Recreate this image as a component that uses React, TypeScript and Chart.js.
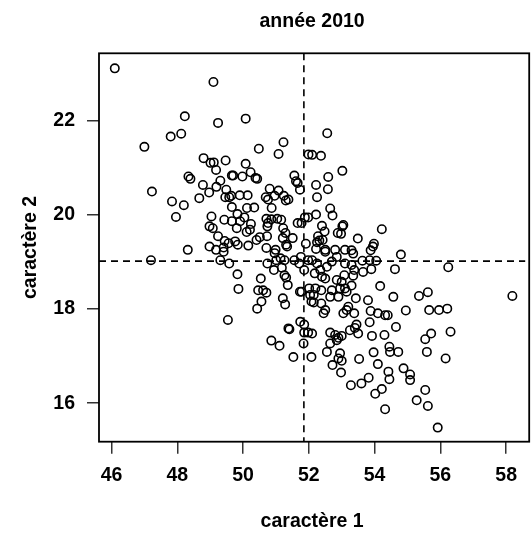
import { useEffect, useRef } from "react";
import { Chart, registerables } from "chart.js";

Chart.register(...registerables);

const TITLE = "année 2010";
const X_LABEL = "caractère 1";
const Y_LABEL = "caractère 2";

const X_TICKS = [46, 48, 50, 52, 54, 56, 58];
const Y_TICKS = [16, 18, 20, 22];

const MEAN_X = 51.85;
const MEAN_Y = 19.02;

const X_VALUES = [
  46.10, 48.23, 47.80, 48.12, 47.00, 48.80, 48.34, 48.40, 48.78, 47.23,
  48.67, 47.84, 48.20, 47.96, 48.32, 49.10, 49.24, 50.08, 50.48, 51.23,
  51.08, 51.99, 49.01, 49.11, 49.47, 49.18, 50.08, 49.66, 49.70, 49.98,
  50.23, 50.38, 50.43, 49.31, 49.19, 48.97, 49.49, 49.46, 49.58, 49.64,
  49.90, 50.14, 50.81, 51.08, 50.69, 50.76, 50.96, 51.24, 51.30, 51.38,
  51.56, 51.61, 51.66, 51.73, 50.87, 49.66, 50.12, 50.34, 49.83, 49.04,
  49.43, 49.66, 49.91, 50.04, 50.24, 48.98, 49.08, 49.81, 50.11, 50.21,
  50.71, 50.76, 50.86, 51.04, 51.16, 50.74, 51.22, 51.29, 51.66, 51.78,
  51.88, 51.98, 49.24, 49.44, 49.56, 49.76, 49.84, 50.16, 50.41, 50.51,
  50.73, 51.21, 51.31, 51.51, 51.91, 48.98, 49.41, 50.71, 50.99, 52.56,
  52.10, 52.37, 53.02, 52.59, 52.22, 52.58, 52.25, 52.65, 52.72, 52.22,
  52.40, 52.48, 53.05, 53.02, 52.88, 52.98, 54.22, 53.49, 53.98, 52.28,
  52.32, 52.25, 52.42, 52.50, 52.80, 53.10, 53.30, 53.88, 47.20, 49.18,
  49.41, 49.31, 49.58, 49.83, 49.86, 50.54, 50.46, 50.61, 50.71, 50.56,
  50.43, 49.54, 50.74, 50.96, 51.01, 50.94, 51.14, 51.26, 51.18, 51.26,
  51.31, 51.36, 51.21, 51.28, 51.34, 51.56, 51.76, 51.71, 51.86, 51.73,
  51.78, 52.01, 52.04, 52.08, 51.98, 51.41, 51.38, 51.74, 51.86, 51.86,
  51.98, 51.84, 50.86, 51.11, 51.53, 52.08, 52.22, 52.50, 53.35, 52.85,
  53.95, 54.80, 54.05, 53.63, 53.85, 52.10, 52.25, 52.55, 52.70, 53.10,
  53.30, 53.38, 53.65, 53.90, 54.62, 52.18, 52.35, 52.40, 52.50, 53.08,
  53.35, 52.85, 53.00, 54.17, 52.20, 52.38, 52.70, 52.95, 53.10, 53.30,
  53.15, 52.15, 52.65, 52.90, 53.43, 53.80, 54.57, 55.35, 52.15, 52.38,
  53.20, 53.15, 52.50, 52.45, 53.05, 53.38, 53.88, 54.10, 54.40, 54.32,
  54.95, 53.85, 53.45, 53.40, 53.25, 53.50, 54.65, 52.10, 52.65, 52.80,
  52.90, 53.00, 52.85, 52.65, 53.92, 54.30, 52.55, 52.95, 53.00, 52.90,
  53.53, 53.97, 54.45, 54.47, 54.72, 54.10, 52.72, 52.98, 54.42, 54.45,
  54.88, 55.08, 55.08, 53.82, 53.60, 53.28, 54.22, 54.02, 55.28, 54.32,
  56.24, 58.19, 55.62, 55.66, 55.96, 56.21, 55.72, 55.54, 56.31, 55.59,
  56.16, 55.54, 55.62, 55.92,
];

const Y_VALUES = [
  23.12, 22.10, 21.67, 21.73, 21.45, 21.21, 20.82, 20.77, 20.64, 20.50,
  20.36, 20.29, 20.21, 19.96, 19.26, 22.83, 21.96, 22.05, 21.41, 21.55,
  21.30, 21.29, 21.11, 21.12, 21.16, 20.96, 21.09, 20.84, 20.84, 20.82,
  20.91, 20.79, 20.77, 20.73, 20.60, 20.48, 20.54, 20.38, 20.38, 20.41,
  20.42, 20.42, 20.56, 20.52, 20.38, 20.33, 20.41, 20.41, 20.31, 20.33,
  20.84, 20.72, 20.68, 20.54, 20.15, 20.17, 20.15, 20.16, 20.02, 19.97,
  19.90, 19.87, 19.87, 19.95, 19.81, 19.76, 19.72, 19.72, 19.64, 19.69,
  19.92, 19.83, 19.91, 19.92, 19.90, 19.76, 19.72, 19.62, 19.83, 19.83,
  19.95, 19.95, 19.55, 19.45, 19.40, 19.44, 19.37, 19.35, 19.47, 19.53,
  19.55, 19.51, 19.37, 19.51, 19.39, 19.33, 19.31, 19.30, 19.26, 21.74,
  21.28, 21.26, 20.94, 20.81, 20.64, 20.55, 20.38, 20.14, 19.99, 20.01,
  19.77, 19.65, 19.79, 19.76, 19.62, 19.60, 19.70, 19.50, 19.39, 19.55,
  19.46, 19.42, 19.47, 19.26, 19.26, 19.26, 19.25, 19.25, 19.04, 19.26,
  19.22, 19.04, 18.97, 18.74, 18.43, 18.65, 18.40, 18.40, 18.35, 18.16,
  18.01, 17.77, 18.97, 19.19, 19.04, 18.83, 19.08, 19.04, 18.88, 18.72,
  18.67, 18.51, 18.23, 18.10, 19.33, 19.04, 19.11, 18.97, 18.83, 18.37,
  18.37, 18.44, 18.30, 18.16, 19.04, 17.57, 17.59, 17.73, 17.67, 17.50,
  17.50, 17.27, 17.33, 17.22, 16.98, 16.98, 19.28, 19.22, 19.18, 19.11,
  19.33, 19.16, 19.03, 19.03, 19.04, 19.04, 18.97, 18.90, 19.01, 18.97,
  18.94, 18.83, 18.79, 18.85, 18.85, 18.76, 18.83, 18.69, 18.65, 18.72,
  18.71, 18.62, 18.58, 18.49, 18.44, 18.40, 18.40, 18.44, 18.44, 18.50,
  18.37, 18.30, 18.26, 18.26, 18.23, 18.19, 18.26, 18.28, 18.14, 18.12,
  18.05, 17.98, 17.98, 17.91, 17.91, 17.91, 17.96, 17.91, 17.87, 17.87,
  17.97, 17.72, 17.67, 17.60, 17.55, 17.48, 17.62, 17.48, 17.50, 17.45,
  17.39, 17.43, 17.34, 17.27, 17.43, 17.45, 17.09, 17.06, 16.90, 16.95,
  16.94, 17.08, 17.20, 17.09, 17.09, 16.83, 16.81, 16.65, 16.67, 16.51,
  16.74, 16.61, 16.49, 16.54, 16.42, 16.38, 16.30, 16.20, 16.06, 15.87,
  18.89, 18.28, 18.36, 17.98, 17.98, 18.01, 17.48, 17.36, 17.52, 17.09,
  16.95, 16.28, 15.94, 15.48,
];

const X_MIN = 45.62;
const X_MAX = 58.58;
const Y_MIN = 15.18;
const Y_MAX = 23.44;

export default function App() {
  const ref = useRef<HTMLCanvasElement>(null);

  useEffect(() => {
    if (!ref.current) return;
    const font = {
      family: "'Liberation Sans', Arial, Helvetica, sans-serif",
      weight: "bold" as const,
      size: 19.5,
      lineHeight: 1.2,
    };

    const frame = {
      id: "frame",
      afterDatasetsDraw(chart: any) {
        const { ctx, chartArea: a, scales } = chart;
        const px = scales.x.getPixelForValue(MEAN_X);
        const py = scales.y.getPixelForValue(MEAN_Y);
        ctx.save();
        ctx.strokeStyle = "#000";
        ctx.lineWidth = 1.6;
        ctx.setLineDash([7, 5]);
        ctx.beginPath();
        ctx.moveTo(px, a.top);
        ctx.lineTo(px, a.bottom);
        ctx.moveTo(a.left, py);
        ctx.lineTo(a.right, py);
        ctx.stroke();
        ctx.setLineDash([]);
        ctx.lineWidth = 1.8;
        ctx.strokeRect(a.left, a.top, a.right - a.left + 4, a.bottom - a.top);
        ctx.restore();
      },
    };

    const points = X_VALUES.map((x, i) => ({ x, y: Y_VALUES[i] }));

    const chart = new Chart(ref.current, {
      type: "scatter",
      data: {
        datasets: [
          {
            data: points,
            pointStyle: "circle",
            pointRadius: 4.2,
            pointHoverRadius: 4.2,
            backgroundColor: "rgba(0,0,0,0)",
            borderColor: "#000",
            pointBorderWidth: 1.6,
            borderWidth: 1.6,
          },
        ],
      },
      options: {
        animation: false,
        responsive: false,
        devicePixelRatio: 1,
        layout: { padding: 0 },
        plugins: {
          legend: { display: false },
          tooltip: { enabled: false },
          title: {
            display: true,
            text: TITLE,
            color: "#000",
            font,
            fullSize: false,
            padding: { top: 10.3, bottom: 19.6 },
          },
        },
        scales: {
          x: {
            type: "linear",
            min: X_MIN,
            max: X_MAX,
            afterBuildTicks: (s: any) => {
              s.ticks = X_TICKS.map((v) => ({ value: v }));
            },
            afterFit: (s: any) => {
              s.height = 91.3;
            },
            grid: {
              display: true,
              drawOnChartArea: false,
              drawTicks: true,
              tickLength: 12,
              tickColor: "#333",
              lineWidth: 1.5,
            },
            border: { display: false },
            ticks: {
              color: "#000",
              font,
              padding: 10.6,
              maxRotation: 0,
              autoSkip: false,
              includeBounds: false,
              callback: (v: any) => String(v),
            },
            title: {
              display: true,
              text: X_LABEL,
              color: "#000",
              font,
              padding: { top: 0, bottom: 0 },
            },
          },
          y: {
            type: "linear",
            min: Y_MIN,
            max: Y_MAX,
            afterBuildTicks: (s: any) => {
              s.ticks = Y_TICKS.map((v) => ({ value: v }));
            },
            afterFit: (s: any) => {
              s.width = 99;
            },
            grid: {
              display: true,
              drawOnChartArea: false,
              drawTicks: true,
              tickLength: 12,
              tickColor: "#333",
              lineWidth: 1.5,
            },
            border: { display: false },
            ticks: {
              color: "#000",
              font,
              padding: 12,
              autoSkip: false,
              includeBounds: false,
              callback: (v: any) => String(v),
            },
            title: {
              display: true,
              text: Y_LABEL,
              color: "#000",
              font,
              padding: { top: 19, bottom: 0 },
            },
          },
        },
      },
      plugins: [frame],
    } as any);

    return () => chart.destroy();
  }, []);

  return (
    <div style={{ position: "absolute", left: 0, top: 0, width: 531, height: 533, background: "#fff" }}>
      <canvas ref={ref} width={531} height={533} style={{ width: 531, height: 533, display: "block" }} />
    </div>
  );
}
